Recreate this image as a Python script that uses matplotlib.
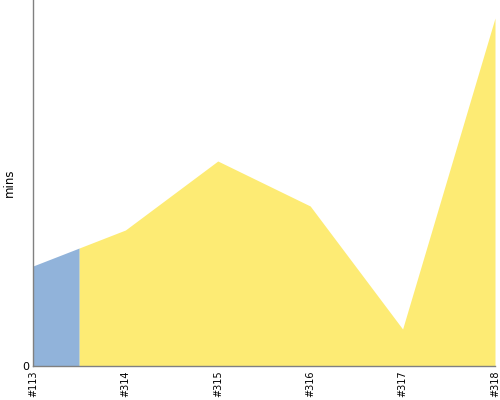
import matplotlib
matplotlib.use("Agg")
import matplotlib.pyplot as plt
import numpy as np

categories = ["#113", "#314", "#315", "#316", "#317", "#318"]
values = [10.0, 13.6, 20.5, 16.0, 3.7, 34.8]
split_at = 0.5  # blue part ends halfway to the 2nd build

x = np.arange(len(categories))
v = np.array(values)
split_val = np.interp(split_at, x, v)

fig = plt.figure(figsize=(5, 4), dpi=100)
ax = fig.add_axes([0.066, 0.085, 0.924, 0.915])

xb = np.array([0, split_at])
yb = np.array([v[0], split_val])
ax.fill_between(xb, 0, yb, color="#91b3da", linewidth=0)
xy = np.concatenate([[split_at], x[1:]])
yy = np.concatenate([[split_val], v[1:]])
ax.fill_between(xy, 0, yy, color="#fdeb74", linewidth=0)

ax.set_xlim(0, len(categories) - 1)
ax.set_ylim(0, 36.6)
ax.set_xticks(x)
ax.set_xticklabels(categories, rotation=90, fontsize=7)
ax.set_yticks([0])
ax.set_yticklabels(["0"], fontsize=8)
ax.tick_params(length=0, pad=3)
for s in ["top", "right"]:
    ax.spines[s].set_visible(False)
for s in ["left", "bottom"]:
    ax.spines[s].set_color("#808080")
    ax.spines[s].set_linewidth(1)
ax.set_ylabel("mins", fontsize=8.5)
ax.yaxis.set_label_coords(-0.038, 0.5)

fig.savefig("out.png", dpi=100)
